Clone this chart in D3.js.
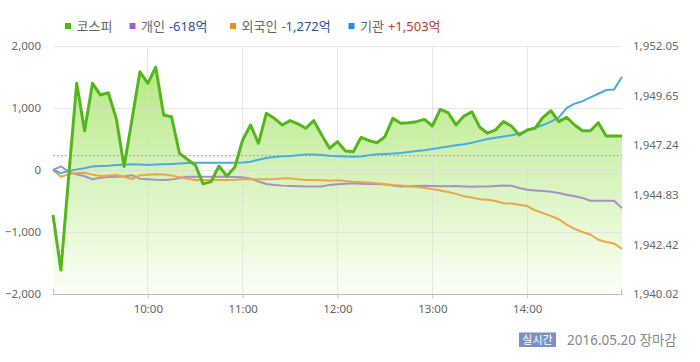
<!DOCTYPE html>
<html><head><meta charset="utf-8">
<script src="https://cdn.jsdelivr.net/npm/d3@7"></script>
<style>
html,body{margin:0;padding:0;background:#fff;}
svg{display:block;font-family:"Noto Sans","Noto Sans CJK KR",sans-serif;}
</style></head><body>
<svg id="chart" width="700" height="362"></svg>
<script>
// ---- data (5-minute intervals, 09:00 - 15:00) ----
const kospi = [1943.85,1941.18,1945.80,1950.24,1947.94,1950.24,1949.67,1949.78,1948.54,1946.20,1948.50,1950.80,1950.24,1951.02,1948.70,1948.62,1946.85,1946.55,1946.28,1945.36,1945.47,1946.23,1945.74,1946.17,1947.49,1948.22,1947.33,1948.79,1948.54,1948.22,1948.43,1948.27,1948.06,1948.43,1947.73,1947.09,1947.41,1946.96,1946.92,1947.62,1947.46,1947.36,1947.65,1948.54,1948.30,1948.33,1948.38,1948.49,1948.17,1948.98,1948.82,1948.22,1948.65,1948.86,1948.11,1947.82,1947.98,1948.38,1948.17,1947.73,1947.98,1948.06,1948.59,1948.91,1948.38,1948.59,1948.22,1947.94,1947.94,1948.33,1947.68,1947.68,1947.68];
const individual = [0,60,-30,-70,-100,-150,-125,-112,-108,-105,-85,-140,-150,-158,-160,-155,-130,-110,-108,-110,-108,-110,-110,-112,-118,-140,-185,-225,-242,-252,-258,-262,-268,-268,-265,-240,-228,-220,-215,-220,-225,-226,-232,-250,-268,-262,-258,-256,-258,-262,-262,-260,-265,-270,-268,-268,-258,-250,-255,-290,-320,-330,-340,-350,-370,-400,-425,-450,-495,-495,-495,-495,-618];
const foreign = [0,-110,-70,-50,-45,-75,-95,-90,-80,-110,-145,-85,-75,-70,-72,-90,-115,-140,-160,-160,-160,-160,-160,-158,-150,-150,-148,-148,-145,-138,-135,-150,-162,-160,-165,-172,-165,-178,-188,-195,-205,-215,-228,-242,-250,-262,-275,-290,-305,-330,-355,-385,-425,-445,-470,-480,-500,-535,-540,-560,-581,-650,-695,-740,-795,-880,-950,-1000,-1040,-1125,-1160,-1185,-1272];
const institution = [0,-50,-15,10,30,55,65,70,80,85,92,88,82,88,92,98,105,112,115,118,118,118,118,118,122,134,165,195,210,220,226,238,252,250,242,228,222,216,215,218,240,255,260,265,275,290,306,320,338,360,380,400,415,440,470,500,520,540,560,590,634,680,725,780,850,1000,1070,1110,1170,1230,1290,1300,1503];
const prevClose = 1946.73;
const leftTicks = [-2000,-1000,0,1000,2000];
const rightTicks = [1940.02,1942.42,1944.83,1947.24,1949.65,1952.05];
const hourTicks = ["10:00","11:00","12:00","13:00","14:00"];
const legendItems = [
  {name:"코스피", value:"", color:"#4cbb17", vcolor:"#666"},
  {name:"개인", value:"-618억", color:"#9b5fd0", vcolor:"#2d4ea6"},
  {name:"외국인", value:"-1,272억", color:"#f28c1c", vcolor:"#2d4ea6"},
  {name:"기관", value:"+1,503억", color:"#1e8fe6", vcolor:"#c0392b"}
];
const dateLabel = "2016.05.20 장마감";
const badgeLabel = "실시간";

// ---- layout ----
const svg = d3.select("#chart");
const L = 53, R = 622, T = 46, B = 294;
const t0 = new Date(2016,4,20,9,0), t1 = new Date(2016,4,20,15,0);
const times = kospi.map((_,i)=> d3.timeMinute.offset(t0, i*5));
const x = d3.scaleTime().domain([t0,t1]).range([L,R]);
const yL = d3.scaleLinear().domain([-2000,2000]).range([B,T]);
const yR = d3.scaleLinear().domain([1940.02,1952.05]).range([B,T]);
const parseH = d3.timeParse("%H:%M");
const hourDates = hourTicks.map(h=>{const d=parseH(h); return new Date(2016,4,20,d.getHours(),d.getMinutes());});

// gradient
const defs = svg.append("defs");
const g = defs.append("linearGradient").attr("id","ag").attr("gradientUnits","userSpaceOnUse")
  .attr("x1",0).attr("x2",0).attr("y1",T).attr("y2",B);
g.append("stop").attr("offset","0%").attr("stop-color","#b0e67c");
g.append("stop").attr("offset","100%").attr("stop-color","#fbfff6");

// area
const area = d3.area().x((d,i)=>x(times[i])).y0(B).y1(d=>yR(d));
svg.append("path").datum(kospi).attr("d",area).attr("fill","url(#ag)");

// grid
const grid = svg.append("g");
grid.selectAll("line.h").data(leftTicks.filter(v=>v>-2000)).join("line")
  .attr("x1",L).attr("x2",R).attr("y1",d=>yL(d)).attr("y2",d=>yL(d))
  .attr("stroke","#d8d8d8").attr("stroke-opacity",0.6).attr("stroke-width",1).attr("shape-rendering","crispEdges");
grid.selectAll("line.v").data(hourDates).join("line")
  .attr("x1",d=>x(d)).attr("x2",d=>x(d)).attr("y1",T).attr("y2",B)
  .attr("stroke","#d8d8d8").attr("stroke-opacity",0.6).attr("stroke-width",1).attr("shape-rendering","crispEdges");

// prev close dashed
svg.append("line").attr("x1",L).attr("x2",R).attr("y1",yR(prevClose)).attr("y2",yR(prevClose))
  .attr("stroke","#a0a0a0").attr("stroke-dasharray","2,2").attr("stroke-width",1);

// bottom axis
const xAxis = d3.axisBottom(x).tickValues(hourDates).tickFormat(d3.timeFormat("%H:%M")).tickSize(4).tickSizeOuter(0);
const ax = svg.append("g").attr("transform",`translate(0,${B})`).call(xAxis);
ax.select(".domain").attr("stroke","#bbb");
ax.selectAll(".tick line").attr("stroke","#bbb");
ax.selectAll(".tick text").attr("fill","#666").attr("font-size","11.5px").attr("dy","1.05em")
  .attr("font-family","Noto Sans, Noto Sans CJK KR, sans-serif");
svg.append("line").attr("x1",L+0.5).attr("x2",L+0.5).attr("y1",B-5).attr("y2",B).attr("stroke","#bbb");
svg.append("line").attr("x1",R-0.5).attr("x2",R-0.5).attr("y1",B-5).attr("y2",B).attr("stroke","#bbb");

// left axis labels
const yAxisL = d3.axisLeft(yL).tickValues(leftTicks).tickFormat(d3.format(",")).tickSize(0);
const al = svg.append("g").attr("transform",`translate(${L-9},0)`).call(yAxisL);
al.select(".domain").remove();
al.selectAll("text").attr("fill","#666").attr("font-size","11.5px").attr("font-family","Noto Sans, sans-serif");

// right axis labels
const yAxisR = d3.axisRight(yR).tickValues(rightTicks).tickFormat(d3.format(",.2f")).tickSize(0);
const ar = svg.append("g").attr("transform",`translate(${R+8},0)`).call(yAxisR);
ar.select(".domain").remove();
ar.selectAll("text").attr("fill","#666").attr("font-size","11.5px").attr("font-family","Noto Sans, sans-serif");

// lines
const lineL = d3.line().x((d,i)=>x(times[i])).y(d=>yL(d));
const lineR = d3.line().x((d,i)=>x(times[i])).y(d=>yR(d));
svg.append("path").datum(individual).attr("d",lineL).attr("fill","none").attr("stroke","#a592c4").attr("stroke-width",2).attr("stroke-linejoin","round");
svg.append("path").datum(foreign).attr("d",lineL).attr("fill","none").attr("stroke","#eda54a").attr("stroke-width",2).attr("stroke-linejoin","round");
svg.append("path").datum(institution).attr("d",lineL).attr("fill","none").attr("stroke","#4aace4").attr("stroke-width",2).attr("stroke-linejoin","round");
svg.append("path").datum(kospi).attr("d",lineR).attr("fill","none").attr("stroke","#55b61c").attr("stroke-width",3).attr("stroke-linejoin","round");

// legend
const legX = [65,129.5,230,348.5];
const leg = svg.append("g");
legendItems.forEach((it,i)=>{
  const gx = legX[i];
  leg.append("rect").attr("x",gx).attr("y",23).attr("width",6).attr("height",6).attr("fill",it.color);
  const t = leg.append("text").attr("x",gx+11.5).attr("y",31).attr("font-size","13px")
    .attr("font-family","Noto Sans, Noto Sans CJK KR, sans-serif");
  t.append("tspan").attr("fill","#666").text(it.name);
  if(it.value) t.append("tspan").attr("fill",it.vcolor).attr("dx",4).text(it.value);
});

// bottom right badge & date
svg.append("rect").attr("x",519).attr("y",332.5).attr("width",37).attr("height",14.5).attr("fill","#7d90c3");
svg.append("text").attr("x",537.5).attr("y",344).attr("text-anchor","middle").attr("fill","#fff")
  .attr("font-size","11px").attr("font-family","Noto Sans CJK KR, sans-serif").text(badgeLabel);
svg.append("text").attr("x",567).attr("y",345).attr("fill","#888").attr("font-size","13.5px")
  .attr("font-family","Noto Sans, Noto Sans CJK KR, sans-serif").text(dateLabel);
</script>
</body></html>
